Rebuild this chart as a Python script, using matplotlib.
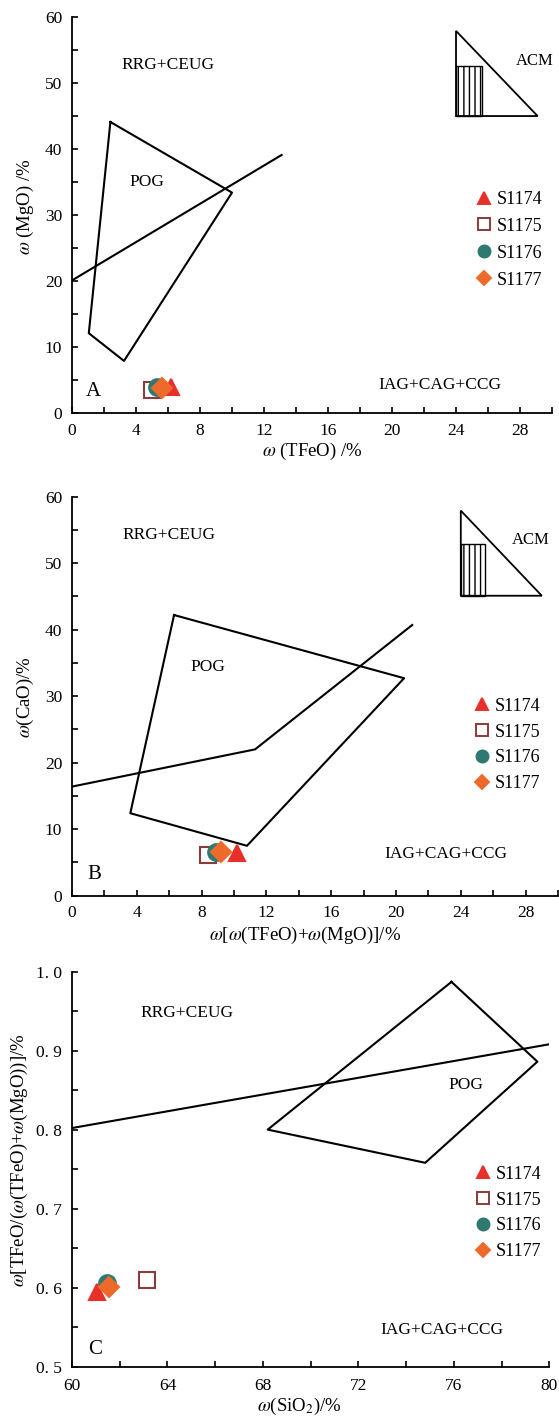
import matplotlib
matplotlib.use("Agg")
import matplotlib.pyplot as plt
from matplotlib.lines import Line2D
from matplotlib.patches import Rectangle, Polygon
from matplotlib.ticker import MultipleLocator, FuncFormatter

plt.rcParams['font.family'] = ['Liberation Serif', 'DejaVu Serif']
plt.rcParams['mathtext.fontset'] = 'stix'
plt.rcParams['hatch.linewidth'] = 1.0

# sample names and marker styles
samples = ["S1174", "S1175", "S1176", "S1177"]
markers = ["^", "s", "o", "D"]
face_cols = ["#E8302A", "white", "#2F7A70", "#EE6A2B"]
edge_cols = ["#E8302A", "#8A3B3B", "#2F7A70", "#EE6A2B"]
sizes = [12, 12, 12, 10]

# panel A: TFeO vs MgO
a_x = [6.2, 5.0, 5.3, 5.6]
a_y = [4.0, 3.5, 3.9, 3.8]
a_pog_x = [2.4, 10.0, 3.25, 1.05, 2.4]
a_pog_y = [44.1, 33.4, 7.9, 12.1, 44.1]
a_line_x = [0, 13.1]
a_line_y = [20.1, 39.1]

# panel B: TFeO+MgO vs CaO
b_x = [10.2, 8.4, 8.9, 9.2]
b_y = [6.4, 6.1, 6.6, 6.5]
b_pog_x = [6.3, 20.5, 10.8, 3.6, 6.3]
b_pog_y = [42.2, 32.7, 7.5, 12.4, 42.2]
b_line_x = [0, 11.3, 21.0]
b_line_y = [16.4, 22.0, 40.7]

# panel C: SiO2 vs TFeO/(TFeO+MgO)
c_x = [61.05, 63.15, 61.45, 61.55]
c_y = [0.594, 0.610, 0.606, 0.601]
c_pog_x = [75.9, 79.5, 74.8, 68.2, 75.9]
c_pog_y = [0.987, 0.886, 0.758, 0.800, 0.987]
c_line_x = [60, 80]
c_line_y = [0.802, 0.908]

fig = plt.figure(figsize=(5.59, 14.19), dpi=100)
axA = fig.add_axes([0.1288, 0.7089, 0.8587, 0.2791])
axB = fig.add_axes([0.1288, 0.3688, 0.8694, 0.2812])
axC = fig.add_axes([0.1288, 0.0369, 0.8539, 0.2784])


def style_axis(ax, xpad):
    for s in ['top', 'right']:
        ax.spines[s].set_visible(False)
    for s in ['left', 'bottom']:
        ax.spines[s].set_linewidth(1.3)
    ax.tick_params(which='both', direction='in', width=1.2, labelsize=12.5)
    ax.tick_params(which='major', length=4)
    ax.tick_params(which='minor', length=4)
    ax.tick_params(axis='x', pad=xpad)
    ax.tick_params(axis='y', pad=7)


def draw_samples(ax, xs, ys):
    for i in range(len(samples)):
        ax.plot(xs[i], ys[i], marker=markers[i], ls='none', ms=sizes[i],
                mfc=face_cols[i], mec=edge_cols[i], mew=1.5, zorder=5)


def draw_legend(ax, x0, yc, spacing):
    handles = [Line2D([], [], marker=markers[i], ls='none',
                      ms=sizes[i] * 0.72, mfc=face_cols[i], mec=edge_cols[i],
                      mew=1.4) for i in range(len(samples))]
    ax.legend(handles, samples, loc='center left', bbox_to_anchor=(x0, yc),
              frameon=False, fontsize=13, handlelength=1.0,
              handletextpad=0.2, labelspacing=spacing, borderpad=0,
              borderaxespad=0)


def draw_acm(ax, x0, x1, xr, y0, y1, yr):
    ax.add_patch(Polygon([[x0, y1], [x0, y0], [x1, y0]], closed=True,
                         fill=False, ec='black', lw=1.3))
    ax.add_patch(Rectangle((x0, y0), xr - x0, yr - y0, fill=False,
                           ec='black', lw=1.0, hatch='|||'))


# ---- A ----
style_axis(axA, 7)
axA.plot(a_pog_x, a_pog_y, color='black', lw=1.5)
axA.plot(a_line_x, a_line_y, color='black', lw=1.5)
draw_samples(axA, a_x, a_y)
draw_acm(axA, 24.0, 29.1, 25.6, 45.0, 57.9, 52.6)
axA.text(28.9, 53.3, 'ACM', ha='center', va='center', fontsize=12)
axA.text(6.0, 52.7, 'RRG+CEUG', ha='center', va='center', fontsize=12.5)
axA.text(4.7, 35.0, 'POG', ha='center', va='center', fontsize=12.5)
axA.text(23.0, 4.2, 'IAG+CAG+CCG', ha='center', va='center', fontsize=12.5)
axA.text(1.35, 3.2, 'A', ha='center', va='center', fontsize=15)
draw_legend(axA, 0.8396, 0.4376, 0.55)
axA.set_xlim(0, 30)
axA.set_ylim(0, 60)
axA.xaxis.set_major_locator(MultipleLocator(4))
axA.xaxis.set_minor_locator(MultipleLocator(2))
axA.yaxis.set_major_locator(MultipleLocator(10))
axA.yaxis.set_minor_locator(MultipleLocator(5))
axA.set_xlabel(r'$\omega$ (TFeO) /%', fontsize=13.5, va='center')
axA.set_ylabel(r'$\omega$ (MgO) /%', fontsize=13.5, va='center')
axA.xaxis.set_label_coords(0.5, -0.096)
axA.yaxis.set_label_coords(-0.098, 0.52)

# ---- B ----
style_axis(axB, 7)
axB.plot(b_pog_x, b_pog_y, color='black', lw=1.5)
axB.plot(b_line_x, b_line_y, color='black', lw=1.5)
draw_samples(axB, b_x, b_y)
draw_acm(axB, 24.0, 29.0, 25.5, 45.1, 57.9, 52.9)
axB.text(28.3, 53.5, 'ACM', ha='center', va='center', fontsize=12)
axB.text(6.0, 54.2, 'RRG+CEUG', ha='center', va='center', fontsize=12.5)
axB.text(8.4, 34.4, 'POG', ha='center', va='center', fontsize=12.5)
axB.text(23.1, 6.3, 'IAG+CAG+CCG', ha='center', va='center', fontsize=12.5)
axB.text(1.4, 3.2, 'B', ha='center', va='center', fontsize=15)
draw_legend(axB, 0.8257, 0.3777, 0.49)
axB.set_xlim(0, 30)
axB.set_ylim(0, 60)
axB.xaxis.set_major_locator(MultipleLocator(4))
axB.xaxis.set_minor_locator(MultipleLocator(2))
axB.yaxis.set_major_locator(MultipleLocator(10))
axB.yaxis.set_minor_locator(MultipleLocator(5))
axB.set_xlabel(r'$\omega$[$\omega$(TFeO)+$\omega$(MgO)]/%', fontsize=13.5, va='center')
axB.set_ylabel(r'$\omega$(CaO)/%', fontsize=13.5, va='center')
axB.xaxis.set_label_coords(0.48, -0.0985)
axB.yaxis.set_label_coords(-0.095, 0.498)

# ---- C ----
style_axis(axC, 8)
axC.plot(c_pog_x, c_pog_y, color='black', lw=1.5)
axC.plot(c_line_x, c_line_y, color='black', lw=1.5)
draw_samples(axC, c_x, c_y)
axC.text(64.8, 0.947, 'RRG+CEUG', ha='center', va='center', fontsize=12.5)
axC.text(76.5, 0.857, 'POG', ha='center', va='center', fontsize=12.5)
axC.text(75.5, 0.546, 'IAG+CAG+CCG', ha='center', va='center', fontsize=12.5)
axC.text(60.95, 0.522, 'C', ha='center', va='center', fontsize=15)
draw_legend(axC, 0.8429, 0.389, 0.49)
axC.set_xlim(60, 80)
axC.set_ylim(0.5, 1.0)
axC.xaxis.set_major_locator(MultipleLocator(4))
axC.xaxis.set_minor_locator(MultipleLocator(2))
axC.yaxis.set_major_locator(MultipleLocator(0.1))
axC.yaxis.set_minor_locator(MultipleLocator(0.05))
axC.yaxis.set_major_formatter(FuncFormatter(lambda v, p: f"{v:.1f}".replace('.', '. ')))
axC.set_xlabel(r'$\omega$(SiO$_2$)/%', fontsize=13.5, va='center')
axC.set_ylabel(r'$\omega$[TFeO/($\omega$(TFeO)+$\omega$(MgO))]/%', fontsize=13.5, va='center')
axC.xaxis.set_label_coords(0.476, -0.1)
axC.yaxis.set_label_coords(-0.111, 0.523)

fig.savefig('out.png', dpi=100)
